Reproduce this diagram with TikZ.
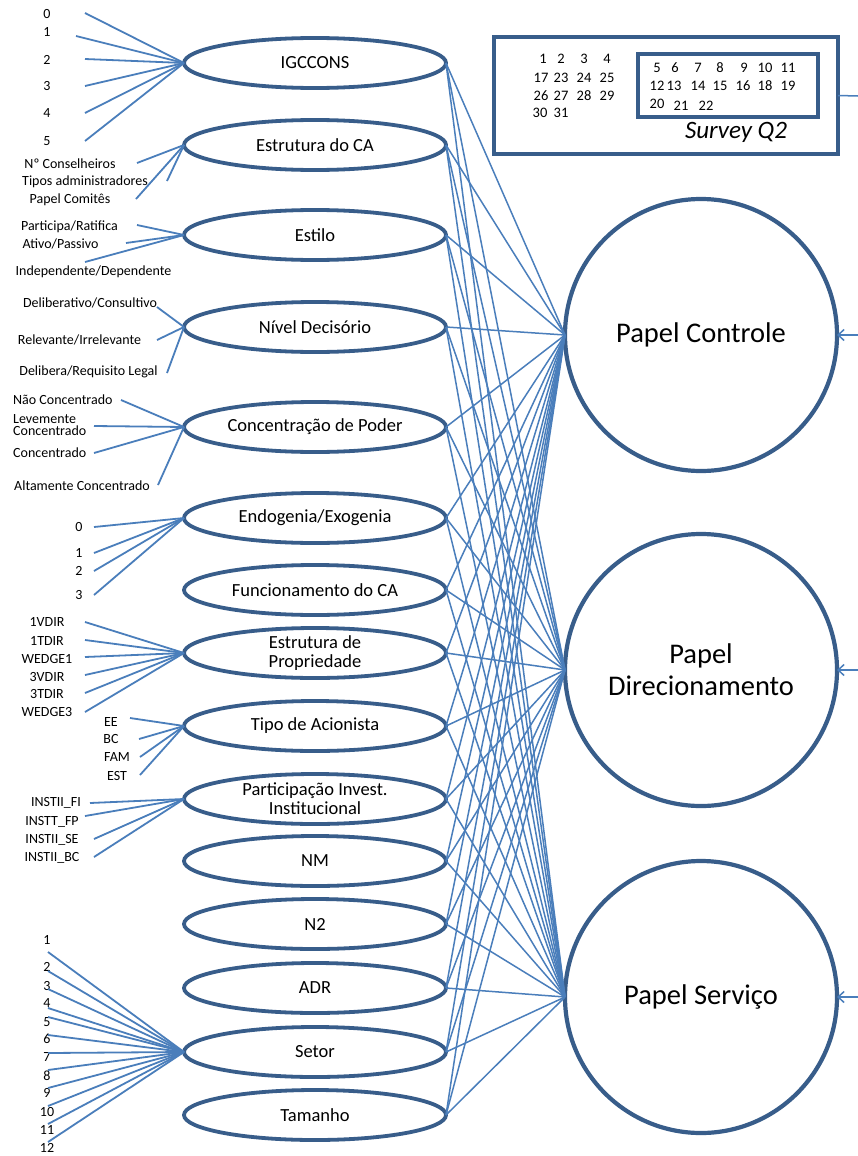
\documentclass[tikz,border=0pt]{standalone}
\usepackage{fontspec}
\setmainfont{Carlito}
\usetikzlibrary{shapes.geometric,arrows.meta}
\definecolor{cblue}{RGB}{74,126,187}
\definecolor{dblue}{RGB}{56,93,138}
\tikzset{
  conn/.style={draw=cblue, line width=1.5pt},
  lconn/.style={draw=cblue, line width=1.8pt},
  ell/.style={ellipse, draw=dblue, fill=white, line width=3.8pt, minimum width=262pt, minimum height=50pt, inner sep=0pt, outer sep=0pt, align=center, font=\fontsize{18.5}{19}\selectfont},
  bigc/.style={circle, draw=dblue, fill=white, line width=4.2pt, minimum size=272pt, inner sep=0pt, outer sep=0pt, align=center, font=\fontsize{28.5}{32}\selectfont},
  lbl/.style={inner sep=0pt, font=\fontsize{14}{14.5}\selectfont},
  lbll/.style={lbl, anchor=west, align=left},
  num/.style={inner sep=0pt, font=\fontsize{14.5}{15}\selectfont},
  box/.style={draw=dblue, fill=white, inner sep=0pt, outer sep=0pt},
  tip/.style={-{Straight Barb[length=6pt,width=11pt]}}
}
\begin{document}
\begin{tikzpicture}[x=1pt,y=-1pt]
\useasboundingbox[fill=white] (0,0) rectangle (858,1156);

% survey box
\node[box, line width=4.2pt, minimum width=344pt, minimum height=117pt] (survey) at (666,95.5) {};
\node[box, line width=3.2pt, minimum width=180pt, minimum height=63pt] (surveyin) at (728,85.5) {};
\foreach \t/\x/\y in {1/543/59,2/561/59,3/584/59,4/607/59,
  17/541/78,23/561/78,24/584/78,25/607/78,
  26/541/96,27/561/96,28/584/96,29/607/96,
  30/540/113,31/561/113,
  5/657/68,6/675/68,7/698/68,8/720/68,9/744/68,10/765/68,11/788/68,
  12/657/86,13/674/86,14/698/86,15/720/86,16/743/86,18/765/86,19/788/86,
  20/657/104,21/681/106,22/706/106}
  {\node[num] (n\t) at (\x,\y) {\t};}
\node[inner sep=0pt, font=\fontsize{25}{27}\selectfont\itshape] (sq2) at (736,132) {Survey Q2};
\coordinate (sr) at (858,96);
\draw[conn] (survey.east) -- (sr);

% big circles
\node[bigc] (c1) at (701,335) {Papel Controle};
\node[bigc] (c2) at (701,670) {Papel\\Direcionamento};
\node[bigc] (c3) at (701,997) {Papel Serviço};
\coordinate (r1) at (858,335);
\coordinate (r2) at (858,670);
\coordinate (r3) at (858,997);
\draw[conn, tip] (r1) -- (c1.east);
\draw[conn, tip] (r2) -- (c2.east);
\draw[conn, tip] (r3) -- (c3.east);

% ellipses
\node[ell] (e1) at (315,63) {IGCCONS};
\node[ell] (e2) at (315,145) {Estrutura do CA};
\node[ell] (e3) at (315,235) {Estilo};
\node[ell] (e4) at (315,327) {Nível Decisório};
\node[ell] (e5) at (315,427) {Concentração de Poder};
\node[ell] (e6) at (315,518) {Endogenia/Exogenia};
\node[ell] (e7) at (315,590) {Funcionamento do CA};
\node[ell] (e8) at (315,653) {Estrutura de\\Propriedade};
\node[ell] (e9) at (315,726) {Tipo de Acionista};
\node[ell] (e10) at (315,799) {Participação Invest.\\Institucional};
\node[ell] (e11) at (315,861) {NM};
\node[ell] (e12) at (315,924) {N2};
\node[ell] (e13) at (315,988) {ADR};
\node[ell] (e14) at (315,1052) {Setor};
\node[ell] (e15) at (315,1115) {Tamanho};

\foreach \i in {1,...,15}
  \foreach \c in {c1,c2,c3}
    \draw[conn] (e\i.east) -- (\c.west);

% IGCCONS indicators
\node[lbl] (a1) at (47,14) {0};
\node[lbl] (a2) at (47,32) {1};
\node[lbl] (a3) at (47,60) {2};
\node[lbl] (a4) at (47,86) {3};
\node[lbl] (a5) at (47,113) {4};
\node[lbl] (a6) at (47,141) {5};
\draw[lconn] (85,13) coordinate (a1s) -- (e1.west);
\draw[lconn] (76,36) coordinate (a2s) -- (e1.west);
\draw[lconn] (85,59) coordinate (a3s) -- (e1.west);
\draw[lconn] (85,86) coordinate (a4s) -- (e1.west);
\draw[lconn] (85,113) coordinate (a5s) -- (e1.west);
\draw[lconn] (85,141) coordinate (a6s) -- (e1.west);

% Estrutura do CA
\node[lbl] (b1) at (70,164) {Nº Conselheiros};
\node[lbl] (b2) at (85,182) {Tipos administradores};
\node[lbl] (b3) at (70,200) {Papel Comitês};
\draw[lconn] (137,163) coordinate (b1s) -- (e2.west);
\draw[lconn] (167,181) coordinate (b2s) -- (e2.west);
\draw[lconn] (136,199) coordinate (b3s) -- (e2.west);

% Estilo
\node[lbl] (d1) at (69.5,227) {Participa/Ratifica};
\node[lbl] (d2) at (60.5,244) {Ativo/Passivo};
\node[lbl] (d3) at (93.5,272) {Independente/Dependente};
\draw[lconn] (137,225) coordinate (d1s) -- (e3.west);
\draw[lconn] (126,243) coordinate (d2s) -- (e3.west);
\draw[lconn] (85,262) coordinate (d3s) -- (e3.west);

% Nivel Decisorio
\node[lbl] (f1) at (90,303) {Deliberativo/Consultivo};
\node[lbl] (f2) at (79.5,340) {Relevante/Irrelevante};
\node[lbl] (f3) at (88.5,372) {Delibera/Requisito Legal};
\draw[lconn] (157,307) coordinate (f1s) -- (e4.west);
\draw[lconn] (157,340) coordinate (f2s) -- (e4.west);
\draw[lconn] (167,373) coordinate (f3s) -- (e4.west);

% Concentracao de Poder
\node[lbll] (g1) at (13,400) {Não Concentrado};
\node[lbll, font=\fontsize{14}{12}\selectfont] (g2) at (13,425) {Levemente\\Concentrado};
\node[lbll] (g3) at (13,453) {Concentrado};
\node[lbll] (g4) at (14,486) {Altamente Concentrado};
\draw[lconn] (121,400) coordinate (g1s) -- (e5.west);
\draw[lconn] (94,426) coordinate (g2s) -- (e5.west);
\draw[lconn] (94,453) coordinate (g3s) -- (e5.west);
\draw[lconn] (158,485) coordinate (g4s) -- (e5.west);

% Endogenia
\node[lbl] (h1) at (79,527) {0};
\node[lbl] (h2) at (79,553) {1};
\node[lbl] (h3) at (79,571) {2};
\node[lbl] (h4) at (79,595) {3};
\draw[lconn] (94,527) coordinate (h1s) -- (e6.west);
\draw[lconn] (94,553) coordinate (h2s) -- (e6.west);
\draw[lconn] (94,571) coordinate (h3s) -- (e6.west);
\draw[lconn] (94,595) coordinate (h4s) -- (e6.west);

% Estrutura de Propriedade
\node[lbl] (k1) at (47,622) {1VDIR};
\node[lbl] (k2) at (47,641) {1TDIR};
\node[lbl] (k3) at (47,659) {WEDGE1};
\node[lbl] (k4) at (47,677) {3VDIR};
\node[lbl] (k5) at (47,694) {3TDIR};
\node[lbl] (k6) at (47,712) {WEDGE3};
\draw[lconn] (85,622) coordinate (k1s) -- (e8.west);
\draw[lconn] (85,640) coordinate (k2s) -- (e8.west);
\draw[lconn] (85,657) coordinate (k3s) -- (e8.west);
\draw[lconn] (85,675) coordinate (k4s) -- (e8.west);
\draw[lconn] (85,693) coordinate (k5s) -- (e8.west);
\draw[lconn] (85,712) coordinate (k6s) -- (e8.west);

% Tipo de Acionista
\node[lbl] (m1) at (111,722) {EE};
\node[lbl] (m2) at (111,739) {BC};
\node[lbl] (m3) at (117,757) {FAM};
\node[lbl] (m4) at (117,776) {EST};
\draw[lconn] (130,718) coordinate (m1s) -- (e9.west);
\draw[lconn] (139,739) coordinate (m2s) -- (e9.west);
\draw[lconn] (140,757) coordinate (m3s) -- (e9.west);
\draw[lconn] (140,775) coordinate (m4s) -- (e9.west);

% Participacao
\node[lbl] (p1) at (56,803) {INSTII\_FI};
\node[lbl] (p2) at (52,822) {INSTT\_FP};
\node[lbl] (p3) at (52,840) {INSTII\_SE};
\node[lbl] (p4) at (52,858) {INSTII\_BC};
\draw[lconn] (90,803) coordinate (p1s) -- (e10.west);
\draw[lconn] (85,816) coordinate (p2s) -- (e10.west);
\draw[lconn] (94,839) coordinate (p3s) -- (e10.west);
\draw[lconn] (94,857) coordinate (p4s) -- (e10.west);

% Setor
\foreach \t/\ly/\sy in {1/940/952,2/967/971,3/986/989,4/1003/1008,5/1022/1017,6/1039/1035,
  7/1057/1053,8/1076/1070,9/1093/1088,10/1112/1106,11/1130/1124,12/1148/1142}
{
  \node[lbl] (s\t) at (47,\ly) {\t};
  \draw[lconn] (48,\sy) coordinate (s\t s) -- (e14.west);
}
\end{tikzpicture}
\end{document}
